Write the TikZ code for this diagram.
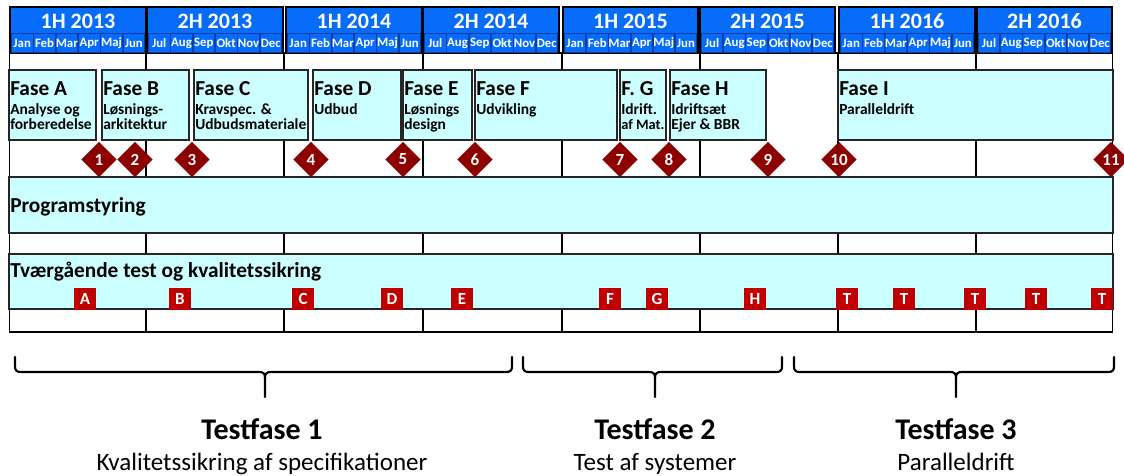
\documentclass[tikz,border=0pt]{standalone}
\usepackage{fontspec}
\setmainfont{Carlito}
\usetikzlibrary{shapes.geometric,fit}
\definecolor{hdrblue}{RGB}{8,108,250}
\definecolor{mborder}{RGB}{10,60,170}
\definecolor{cyanfill}{RGB}{204,255,255}
\definecolor{msred}{RGB}{140,0,0}
\definecolor{sqred}{RGB}{192,0,0}
\newcommand\pxfont[2]{\fontsize{#1}{#2}\selectfont}
\tikzset{
 hdrblock/.style={draw=black, line width=1.1pt, fill=hdrblue, inner sep=0pt},
 hdrtext/.style={text=white, font=\bfseries\pxfont{16.5}{18}, inner sep=0pt},
 monthbox/.style={draw=mborder, line width=0.6pt, fill=hdrblue, inner sep=0pt},
 monthtext/.style={text=white, font=\bfseries\pxfont{9.6}{11}, inner sep=0pt},
 gridcell/.style={draw=black, line width=1pt},
 pbox/.style={draw=black!85, line width=1pt, fill=cyanfill, inner sep=0pt},
 ptitle/.style={anchor=base west, inner sep=0pt, font=\bfseries\pxfont{16}{18}},
 psub/.style={anchor=base west, inner sep=0pt, font=\bfseries\pxfont{11.6}{13}},
 milestone/.style={diamond, fill=msred, text=white, inner sep=0pt, minimum width=26.5pt, minimum height=26.5pt, font=\bfseries\pxfont{12.75}{14}},
 testmark/.style={rectangle, fill=sqred, text=white, inner sep=0pt, minimum size=16.5pt, font=\bfseries\pxfont{12.75}{14}},
 bracepath/.style={draw=black, line width=1.6pt, line cap=round, line join=round},
 tftitle/.style={anchor=base, inner sep=0pt, font=\bfseries\pxfont{22.5}{26}},
 tfsub/.style={anchor=base, inner sep=0pt, font=\pxfont{18.75}{22}},
}
\newcommand\phase[6]{%
 \node[pbox, fit={(#2,70) (#3,140)}] (#1) {};
 \node[ptitle] (#1-t) at (#2+1,95) {#4};
 \node[psub] (#1-a) at (#2+1,114) {#5};
 \if\relax\detokenize{#6}\relax\else\node[psub] (#1-b) at (#2+1,129) {#6};\fi
}
\newcommand\testbrace[3]{%
 \draw[bracepath] (#1,357) -- (#1,366) .. controls (#1,370.5) and (#1+1.5,372) .. (#1+6,372) -- (#2-6,372) .. controls (#2-1.5,372) and (#2,373.5) .. (#2,378) -- (#2,397);
 \draw[bracepath] (#3,357) -- (#3,366) .. controls (#3,370.5) and (#3-1.5,372) .. (#3-6,372) -- (#2+6,372) .. controls (#2+1.5,372) and (#2,373.5) .. (#2,378);
}
\begin{document}
\begin{tikzpicture}[x=0.75pt,y=-0.75pt]
\useasboundingbox (0,0) rectangle (1124,475);
% grid columns
\foreach \a/\b in {9/146,146/284,284/423,423/562,562/700,700/838,838/976,976/1113}{
 \draw[gridcell] (\a+0.6,53) rectangle (\b-0.6,332);
}
% header
\foreach \xl/\xr/\lab/\h [count=\i] in {10/146/1H 2013/A, 147/283/2H 2013/B, 286/422/1H 2014/A, 423/559/2H 2014/B, 563/698/1H 2015/A, 700/835/2H 2015/B, 839/975/1H 2016/A, 977/1112/2H 2016/B}{
 \node[hdrblock, fit={(\xl,7) (\xr,53)}] (hb\i) {};
 \node[hdrtext] (hl\i) at ({(\xl+\xr)/2},21) {\lab};
 \pgfmathsetmacro\w{(\xr-\xl-2)/6}
 \if\h A\def\mlist{Jan,Feb,Mar,Apr,Maj,Jun}\else\def\mlist{Jul,Aug,Sep,Okt,Nov,Dec}\fi
 \foreach \m [count=\k from 0] in \mlist {
  \pgfmathsetmacro\ma{\xl+1+\k*\w+0.4}
  \pgfmathsetmacro\mb{\xl+1+(\k+1)*\w-0.4}
  \node[monthbox, fit={(\ma,33) (\mb,52)}] (mb\i-\k) {};
  \node[monthtext] (mt\i-\k) at ({(\ma+\mb)/2},43) {\m};
 }
}
% phases
\phase{fA}{9}{96}{Fase A}{Analyse og}{forberedelse}
\phase{fB}{102}{189}{Fase B}{Løsnings-}{arkitektur}
\phase{fC}{194}{308}{Fase C}{Kravspec. \&}{Udbudsmateriale}
\phase{fD}{313}{401}{Fase D}{Udbud}{}
\phase{fE}{403}{472}{Fase E}{Løsnings}{design}
\phase{fF}{475}{617}{Fase F}{Udvikling}{}
\phase{fG}{620}{666}{F. G}{Idrift.}{\pxfont{10.8}{13}af Mat.}
\phase{fH}{670}{766}{Fase H}{Idriftsæt}{Ejer \& BBR}
\phase{fI}{838}{1113}{Fase I}{Paralleldrift}{}
% milestones
\foreach \x/\n in {99/1,135/2,192/3,311/4,403/5,475/6,620/7,669/8,768/9,839/10,1111/11}{
 \node[milestone] (ms\n) at (\x,159.5) {\n};
}
% programme rows
\node[pbox, fit={(9,177) (1113,233)}] (prog) {};
\node[ptitle] (progt) at (10,212) {Programstyring};
\node[pbox, fit={(9,254) (1113,309)}] (tvq) {};
\node[ptitle] (tvqt) at (10,277) {Tværgående test og kvalitetssikring};
% test marks
\foreach \x/\l/\nm in {85/A/A,180/B/B,303/C/C,392/D/D,462/E/E,610/F/F,657/G/G,755/H/H,847/T/T1,904/T/T2,975/T/T3,1036/T/T4,1102/T/T5}{
 \node[testmark] (q\nm) at (\x,299) {\l};
}
% braces
\testbrace{15}{265}{512}
\testbrace{523}{655}{782}
\testbrace{794}{956}{1114}
% test phases
\node[tftitle] (tf1) at (262,439) {Testfase 1};
\node[tfsub] (tf1s) at (262,470) {Kvalitetssikring af specifikationer};
\node[tftitle] (tf2) at (655,439) {Testfase 2};
\node[tfsub] (tf2s) at (655,470) {Test af systemer};
\node[tftitle] (tf3) at (956,439) {Testfase 3};
\node[tfsub] (tf3s) at (956,470) {Paralleldrift};
\end{tikzpicture}
\end{document}
